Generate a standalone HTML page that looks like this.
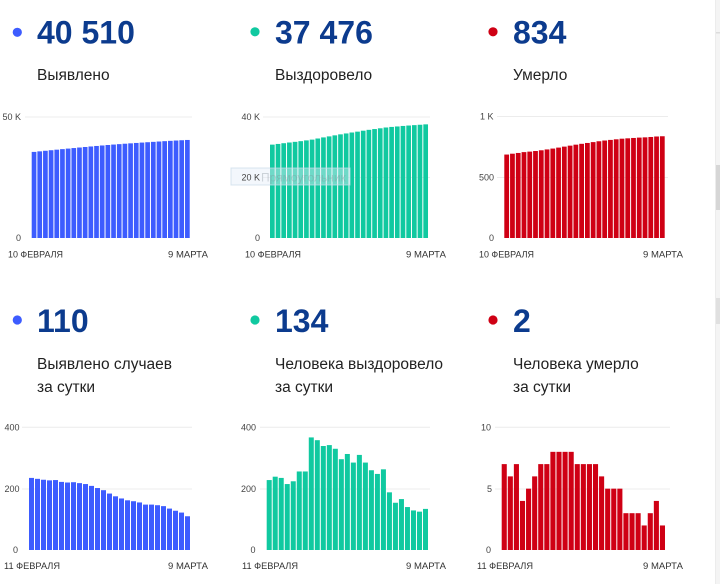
<!DOCTYPE html>
<html><head><meta charset="utf-8"><style>
html,body{margin:0;padding:0;background:#fff;}
svg{display:block;}
.num{font-family:"Liberation Sans",sans-serif;font-weight:bold;font-size:32px;fill:#0c3b8e;}
.lbl{font-family:"Liberation Sans",sans-serif;font-size:15.5px;fill:#222;}
.tk{font-family:"Liberation Sans",sans-serif;font-size:9px;fill:#444;text-anchor:end;}
.dt{font-family:"Liberation Sans",sans-serif;font-size:9px;fill:#333;text-anchor:middle;}
.g{stroke:#ececec;stroke-width:1;}
</style></head><body>
<svg width="720" height="584" viewBox="0 0 720 584" xmlns="http://www.w3.org/2000/svg">
<rect width="720" height="584" fill="#fff"/>
<rect x="716" y="0" width="4" height="584" fill="#f4f4f4"/>
<line x1="715.5" y1="0" x2="715.5" y2="584" stroke="#ececec"/>
<rect x="716" y="32" width="4" height="1.5" fill="#dcdcdc"/>
<rect x="716" y="165" width="4" height="45" fill="#d6d6d6"/>
<rect x="716" y="298" width="4" height="26" fill="#e0e0e0"/>

<!-- headers top -->
<circle cx="17.3" cy="32.3" r="4.6" fill="#3d5cff"/>
<text class="num" x="37" y="43.5">40 510</text>
<text class="lbl" x="37" y="80">Выявлено</text>
<circle cx="255" cy="31.8" r="4.6" fill="#10c9a0"/>
<text class="num" x="275" y="43.5">37 476</text>
<text class="lbl" x="275" y="80">Выздоровело</text>
<circle cx="493" cy="31.8" r="4.6" fill="#cf0014"/>
<text class="num" x="513" y="43.5">834</text>
<text class="lbl" x="513" y="80">Умерло</text>

<!-- headers bottom -->
<circle cx="17.3" cy="320" r="4.6" fill="#3d5cff"/>
<text class="num" x="37" y="332">110</text>
<text class="lbl" x="37" y="369">Выявлено случаев</text>
<text class="lbl" x="37" y="392">за сутки</text>
<circle cx="255" cy="320" r="4.6" fill="#10c9a0"/>
<text class="num" x="275" y="332">134</text>
<text class="lbl" x="275" y="369">Человека выздоровело</text>
<text class="lbl" x="275" y="392">за сутки</text>
<circle cx="493" cy="320" r="4.6" fill="#cf0014"/>
<text class="num" x="513" y="332">2</text>
<text class="lbl" x="513" y="369">Человека умерло</text>
<text class="lbl" x="513" y="392">за сутки</text>

<!-- TOP LEFT chart -->
<line class="g" x1="25" y1="117" x2="192" y2="117"/>
<text class="tk" x="21" y="120.2">50 K</text>
<text class="tk" x="21" y="241.2">0</text>
<g transform="translate(31.7,238) scale(5.679,-0.00242)" fill="#3d5cff">
<rect x="0" width=".824" height="35574"/><rect x="1" width=".824" height="35809"/><rect x="2" width=".824" height="36041"/><rect x="3" width=".824" height="36270"/><rect x="4" width=".824" height="36497"/><rect x="5" width=".824" height="36725"/><rect x="6" width=".824" height="36947"/><rect x="7" width=".824" height="37167"/><rect x="8" width=".824" height="37388"/><rect x="9" width=".824" height="37606"/><rect x="10" width=".824" height="37821"/><rect x="11" width=".824" height="38030"/><rect x="12" width=".824" height="38232"/><rect x="13" width=".824" height="38427"/><rect x="14" width=".824" height="38611"/><rect x="15" width=".824" height="38786"/><rect x="16" width=".824" height="38954"/><rect x="17" width=".824" height="39116"/><rect x="18" width=".824" height="39275"/><rect x="19" width=".824" height="39430"/><rect x="20" width=".824" height="39578"/><rect x="21" width=".824" height="39726"/><rect x="22" width=".824" height="39872"/><rect x="23" width=".824" height="40015"/><rect x="24" width=".824" height="40150"/><rect x="25" width=".824" height="40278"/><rect x="26" width=".824" height="40400"/><rect x="27" width=".824" height="40510"/>
</g>
<text class="dt" x="35.5" y="257.5" textLength="55" lengthAdjust="spacingAndGlyphs">10 ФЕВРАЛЯ</text>
<text class="dt" x="188" y="257.5" textLength="40" lengthAdjust="spacingAndGlyphs">9 МАРТА</text>

<!-- TOP MIDDLE chart -->
<line class="g" x1="263" y1="117" x2="430" y2="117"/>
<line class="g" x1="263" y1="177.5" x2="430" y2="177.5"/>
<text class="tk" x="260" y="120">40 K</text>
<text class="tk" x="260" y="241.2">0</text>
<g transform="translate(270,238) scale(5.679,-0.0030325)" fill="#10c9a0">
<rect x="0" width=".824" height="30791"/><rect x="1" width=".824" height="31019"/><rect x="2" width=".824" height="31258"/><rect x="3" width=".824" height="31493"/><rect x="4" width=".824" height="31708"/><rect x="5" width=".824" height="31932"/><rect x="6" width=".824" height="32188"/><rect x="7" width=".824" height="32444"/><rect x="8" width=".824" height="32811"/><rect x="9" width=".824" height="33169"/><rect x="10" width=".824" height="33508"/><rect x="11" width=".824" height="33850"/><rect x="12" width=".824" height="34180"/><rect x="13" width=".824" height="34476"/><rect x="14" width=".824" height="34789"/><rect x="15" width=".824" height="35074"/><rect x="16" width=".824" height="35384"/><rect x="17" width=".824" height="35669"/><rect x="18" width=".824" height="35929"/><rect x="19" width=".824" height="36177"/><rect x="20" width=".824" height="36440"/><rect x="21" width=".824" height="36628"/><rect x="22" width=".824" height="36782"/><rect x="23" width=".824" height="36948"/><rect x="24" width=".824" height="37088"/><rect x="25" width=".824" height="37217"/><rect x="26" width=".824" height="37342"/><rect x="27" width=".824" height="37476"/>
</g>
<rect x="231" y="168" width="119" height="17" fill="rgba(228,238,248,0.45)" stroke="rgba(200,218,232,0.7)" stroke-width="1"/>
<text class="tk" x="260" y="180.5">20 K</text>
<text x="261" y="181.5" font-family="Liberation Sans, sans-serif" font-size="12" fill="rgba(130,140,150,0.35)">Прямоугольник</text>
<text class="dt" x="273" y="257.5" textLength="56" lengthAdjust="spacingAndGlyphs">10 ФЕВРАЛЯ</text>
<text class="dt" x="426" y="257.5" textLength="40" lengthAdjust="spacingAndGlyphs">9 МАРТА</text>

<!-- TOP RIGHT chart -->
<line class="g" x1="497" y1="116.5" x2="668" y2="116.5"/>
<line class="g" x1="497" y1="177.5" x2="668" y2="177.5"/>
<text class="tk" x="493.5" y="119.5">1 K</text>
<text class="tk" x="494" y="180.7">500</text>
<text class="tk" x="494" y="241.2">0</text>
<g transform="translate(504.3,238) scale(5.764,-0.122)" fill="#cf0014">
<rect x="0" width=".827" height="684"/><rect x="1" width=".827" height="691"/><rect x="2" width=".827" height="697"/><rect x="3" width=".827" height="704"/><rect x="4" width=".827" height="708"/><rect x="5" width=".827" height="713"/><rect x="6" width=".827" height="719"/><rect x="7" width=".827" height="726"/><rect x="8" width=".827" height="733"/><rect x="9" width=".827" height="741"/><rect x="10" width=".827" height="749"/><rect x="11" width=".827" height="757"/><rect x="12" width=".827" height="765"/><rect x="13" width=".827" height="772"/><rect x="14" width=".827" height="779"/><rect x="15" width=".827" height="786"/><rect x="16" width=".827" height="793"/><rect x="17" width=".827" height="799"/><rect x="18" width=".827" height="804"/><rect x="19" width=".827" height="809"/><rect x="20" width=".827" height="814"/><rect x="21" width=".827" height="817"/><rect x="22" width=".827" height="820"/><rect x="23" width=".827" height="823"/><rect x="24" width=".827" height="825"/><rect x="25" width=".827" height="828"/><rect x="26" width=".827" height="832"/><rect x="27" width=".827" height="834"/>
</g>
<text class="dt" x="506.5" y="257.5" textLength="55" lengthAdjust="spacingAndGlyphs">10 ФЕВРАЛЯ</text>
<text class="dt" x="663" y="257.5" textLength="40" lengthAdjust="spacingAndGlyphs">9 МАРТА</text>

<!-- BOTTOM LEFT chart -->
<line class="g" x1="22" y1="427.3" x2="192" y2="427.3"/>
<line class="g" x1="22" y1="489" x2="192" y2="489"/>
<text class="tk" x="19.5" y="430.5">400</text>
<text class="tk" x="19.5" y="492">200</text>
<text class="tk" x="18" y="553.2">0</text>
<g transform="translate(29,550) scale(6.0,-0.30675)" fill="#3d5cff">
<rect x="0" width=".833" height="235"/><rect x="1" width=".833" height="232"/><rect x="2" width=".833" height="229"/><rect x="3" width=".833" height="227"/><rect x="4" width=".833" height="228"/><rect x="5" width=".833" height="222"/><rect x="6" width=".833" height="220"/><rect x="7" width=".833" height="221"/><rect x="8" width=".833" height="218"/><rect x="9" width=".833" height="215"/><rect x="10" width=".833" height="209"/><rect x="11" width=".833" height="202"/><rect x="12" width=".833" height="195"/><rect x="13" width=".833" height="184"/><rect x="14" width=".833" height="175"/><rect x="15" width=".833" height="168"/><rect x="16" width=".833" height="162"/><rect x="17" width=".833" height="159"/><rect x="18" width=".833" height="155"/><rect x="19" width=".833" height="148"/><rect x="20" width=".833" height="148"/><rect x="21" width=".833" height="146"/><rect x="22" width=".833" height="143"/><rect x="23" width=".833" height="135"/><rect x="24" width=".833" height="128"/><rect x="25" width=".833" height="122"/><rect x="26" width=".833" height="110"/>
</g>
<text class="dt" x="32" y="569" textLength="56" lengthAdjust="spacingAndGlyphs">11 ФЕВРАЛЯ</text>
<text class="dt" x="188" y="569" textLength="40" lengthAdjust="spacingAndGlyphs">9 МАРТА</text>

<!-- BOTTOM MIDDLE chart -->
<line class="g" x1="260" y1="427.3" x2="430" y2="427.3"/>
<line class="g" x1="260" y1="489" x2="430" y2="489"/>
<text class="tk" x="256" y="430.5">400</text>
<text class="tk" x="256" y="492">200</text>
<text class="tk" x="255.5" y="553.2">0</text>
<g transform="translate(266.7,550) scale(6.011,-0.30675)" fill="#10c9a0">
<rect x="0" width=".834" height="228"/><rect x="1" width=".834" height="239"/><rect x="2" width=".834" height="235"/><rect x="3" width=".834" height="215"/><rect x="4" width=".834" height="224"/><rect x="5" width=".834" height="256"/><rect x="6" width=".834" height="256"/><rect x="7" width=".834" height="367"/><rect x="8" width=".834" height="358"/><rect x="9" width=".834" height="339"/><rect x="10" width=".834" height="342"/><rect x="11" width=".834" height="330"/><rect x="12" width=".834" height="296"/><rect x="13" width=".834" height="313"/><rect x="14" width=".834" height="285"/><rect x="15" width=".834" height="310"/><rect x="16" width=".834" height="285"/><rect x="17" width=".834" height="260"/><rect x="18" width=".834" height="248"/><rect x="19" width=".834" height="263"/><rect x="20" width=".834" height="188"/><rect x="21" width=".834" height="154"/><rect x="22" width=".834" height="166"/><rect x="23" width=".834" height="140"/><rect x="24" width=".834" height="129"/><rect x="25" width=".834" height="125"/><rect x="26" width=".834" height="134"/>
</g>
<text class="dt" x="270" y="569" textLength="56" lengthAdjust="spacingAndGlyphs">11 ФЕВРАЛЯ</text>
<text class="dt" x="426" y="569" textLength="40" lengthAdjust="spacingAndGlyphs">9 МАРТА</text>

<!-- BOTTOM RIGHT chart -->
<line class="g" x1="495" y1="427.3" x2="670" y2="427.3"/>
<line class="g" x1="495" y1="489" x2="670" y2="489"/>
<text class="tk" x="491" y="430.5">10</text>
<text class="tk" x="492" y="492">5</text>
<text class="tk" x="491" y="553.2">0</text>
<g transform="translate(501.7,550) scale(6.085,-12.27)" fill="#cf0014">
<rect x="0" width=".836" height="7"/><rect x="1" width=".836" height="6"/><rect x="2" width=".836" height="7"/><rect x="3" width=".836" height="4"/><rect x="4" width=".836" height="5"/><rect x="5" width=".836" height="6"/><rect x="6" width=".836" height="7"/><rect x="7" width=".836" height="7"/><rect x="8" width=".836" height="8"/><rect x="9" width=".836" height="8"/><rect x="10" width=".836" height="8"/><rect x="11" width=".836" height="8"/><rect x="12" width=".836" height="7"/><rect x="13" width=".836" height="7"/><rect x="14" width=".836" height="7"/><rect x="15" width=".836" height="7"/><rect x="16" width=".836" height="6"/><rect x="17" width=".836" height="5"/><rect x="18" width=".836" height="5"/><rect x="19" width=".836" height="5"/><rect x="20" width=".836" height="3"/><rect x="21" width=".836" height="3"/><rect x="22" width=".836" height="3"/><rect x="23" width=".836" height="2"/><rect x="24" width=".836" height="3"/><rect x="25" width=".836" height="4"/><rect x="26" width=".836" height="2"/>
</g>
<text class="dt" x="505" y="569" textLength="56" lengthAdjust="spacingAndGlyphs">11 ФЕВРАЛЯ</text>
<text class="dt" x="663" y="569" textLength="40" lengthAdjust="spacingAndGlyphs">9 МАРТА</text>
</svg>
</body></html>
